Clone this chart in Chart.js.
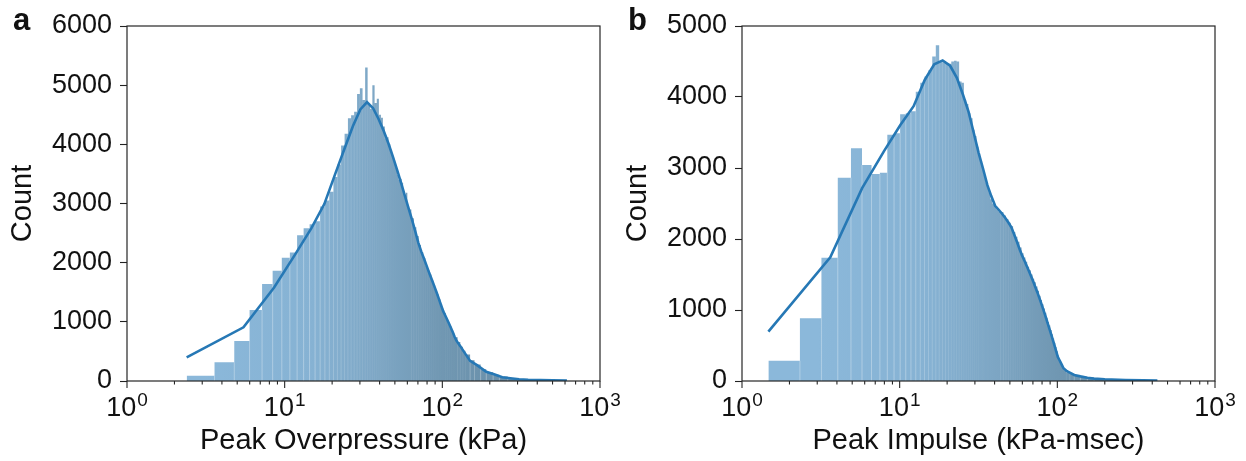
<!DOCTYPE html>
<html>
<head>
<meta charset="utf-8">
<script src="https://cdn.jsdelivr.net/npm/chart.js@4.4.1/dist/chart.umd.min.js"></script>
<style>
  html, body { margin: 0; padding: 0; background: #fff; }
  #wrap { position: relative; width: 1246px; height: 461px; overflow: hidden; }
  canvas { position: absolute; top: 0; }
  #chartA { left: 0; }
  #chartB { left: 615px; }
</style>
</head>
<body>
<div id="wrap">
  <canvas id="chartA" width="620" height="461"></canvas>
  <canvas id="chartB" width="631" height="461"></canvas>
</div>
<script>
// ---- panel a : peak overpressure (kPa) ----
// histogram: left edge of each bin and its count (dense part read as envelope)
const binStartA = [2.39, 3.59, 4.79, 5.99, 7.19, 8.39, 9.59, 10.79, 11.99, 13.19, 14.39, 15.59, 16.79, 17.99, 19.19, 20.39,
  21.59, 22.79, 23.99, 25.19, 26.39, 27.59, 28.79, 29.99, 31.19, 32.39, 33.59, 34.79, 35.99, 37.19, 38.39, 39.59,
  40.79, 41.99, 43.19, 44.39, 45.59, 46.79, 47.99, 49.19, 50.39, 51.59, 52.79, 53.99, 55.19, 56.39, 57.59, 58.79,
  59.99, 61.2, 63.6, 66, 68.4, 70.8, 73.2, 75.6, 78, 80.4, 82.8, 85.2, 87.6, 90, 92.4, 94.8, 97.2, 99.6, 102, 105,
  108, 111, 114, 117, 120, 125, 130, 135, 140, 150, 160, 175, 190, 210, 230, 260, 300, 350, 420, 500];
const countA = [90, 316, 676, 1199, 1640, 1865, 2085, 2170, 2465, 2580, 2650, 2700, 2950, 3050, 3200, 3450,
  3660, 3980, 4180, 4440, 4490, 4550, 4850, 4950, 4750, 5300, 4690, 4600, 5000, 4700, 4770, 4500,
  4450, 4300, 4100, 4120, 4000, 3900, 3800, 3700, 3600, 3480, 3400, 3420, 3350, 3200, 3100, 3180,
  2950, 2900, 2750, 2600, 2450, 2300, 2180, 2080, 1950, 1870, 1800, 1700, 1620, 1520, 1460, 1380, 1300, 1220, 1150, 1060,
  990, 930, 860, 800, 740, 660, 580, 510, 450, 350, 280, 200, 150, 105, 75, 50, 30, 20, 14, 10];
const binEndA = 617;
// kde curve
const kdeXA = [2.39, 5.48, 8.57, 11.66, 14.75, 17.84, 20.93, 24.02, 27.11, 30.2, 33.29, 36.38, 39.47, 42.56, 45.65,
  48.74, 51.83, 54.92, 58.01, 61.1, 64.19, 67.28, 70.37, 73.46, 76.55, 79.64, 82.73, 85.82, 88.91, 92.0, 95.09,
  98.18, 101.27, 104.36, 107.45, 110.54, 113.63, 116.72, 119.81, 122.9, 130, 140, 150, 165, 190, 215, 240, 270,
  307, 350, 420, 500, 617];
const kdeYA = [400, 907, 1580, 2140, 2580, 2990, 3500, 3935, 4310, 4590, 4715, 4610, 4425, 4222, 4006,
  3779, 3555, 3337, 3120, 2919, 2726, 2533, 2340, 2190, 2066, 1942, 1820, 1711, 1603, 1495, 1388,
  1280, 1181, 1108, 1036, 963, 890, 818, 745, 681, 589, 459, 340, 273, 155, 110, 64, 47,
  29, 20, 14, 10, 8];

// ---- panel b : peak impulse (kPa-msec) ----
const binStartB = [1.47, 2.33, 3.19, 4.05, 4.91, 5.77, 6.63, 7.49, 8.35, 9.21, 10.07, 10.93, 11.79, 12.65, 13.51, 14.37,
  15.23, 16.09, 16.95, 17.81, 18.67, 19.53, 20.39, 21.25, 22.11, 22.97, 23.83, 24.69, 25.55, 26.41, 27.27, 28.13,
  29.0, 29.85, 30.7, 31.6, 32.4, 33.3, 34.2, 35.0, 35.9, 36.8, 37.6, 38.5, 39.4, 40.2, 41.1, 42.0,
  43.7, 45.5, 47.2, 48.9, 50.6, 52.4, 54.1, 55.8, 57.5, 59.3, 61.0, 62.7, 64.4, 66.2, 67.9, 69.6,
  71.3, 73.0, 74.8, 76.5, 78.2, 79.9, 81.6, 83.4, 85.1, 86.8, 88.5, 90.2, 92.0, 93.7, 95.4, 97.1,
  98.8, 100.6, 102.3, 104, 106, 108, 110, 114, 120, 128, 140, 155, 171, 200, 250, 300, 350];
const countB = [286, 883, 1737, 2864, 3277, 3042, 2915, 2934, 3470, 3490, 3756, 3770, 3800, 4075, 4200, 4290,
  4380, 4570, 4730, 4500, 4490, 4480, 4470, 4500, 4510, 4500, 4220, 4200, 3960, 3900, 3770, 3700,
  3540, 3450, 3300, 3200, 3100, 3000, 2900, 2800, 2720, 2650, 2560, 2500, 2480, 2450, 2420, 2390,
  2380, 2330, 2280, 2230, 2180, 2100, 2030, 1960, 1880, 1800, 1740, 1680, 1610, 1560, 1500, 1440,
  1390, 1330, 1270, 1200, 1140, 1080, 1020, 960, 890, 830, 780, 720, 660, 600, 540, 480,
  420, 360, 300, 250, 210, 180, 150, 120, 100, 80, 60, 45, 33, 24, 16, 12, 9];
const binEndB = 431;
const kdeXB = [1.47, 3.63, 5.78, 7.94, 10.10, 12.26, 14.42, 16.57, 18.73, 20.89, 23.05, 25.21, 27.36, 29.52, 31.68,
  33.84, 36.0, 38.15, 40.31, 42.47, 44.63, 46.79, 48.94, 51.1, 53.26, 55.42, 57.58, 59.73, 61.89, 64.05, 66.21,
  68.37, 70.52, 72.68, 74.84, 77.0, 79.16, 81.31, 83.47, 85.63, 87.79, 89.95, 92.1, 94.26, 96.42, 98.58, 100.7,
  102.9, 105.1, 107.2, 109.4, 115, 120, 128, 140, 155, 171, 200, 270, 350, 431];
const kdeYB = [695, 1742, 2716, 3235, 3605, 3870, 4240, 4460, 4515, 4440, 4270, 4032, 3790, 3493, 3214,
  2986, 2758, 2601, 2468, 2412, 2356, 2297, 2233, 2165, 2063, 1962, 1860, 1769, 1693, 1617, 1542,
  1467, 1393, 1318, 1244, 1167, 1089, 1012, 935, 857, 781, 707, 632, 558, 484, 409, 339,
  299, 259, 220, 180, 138, 118, 85, 65, 45, 33, 24, 14, 9, 5];

// ---- axes ----
const yTicksA = [0, 1000, 2000, 3000, 4000, 5000, 6000];
const yTicksB = [0, 1000, 2000, 3000, 4000, 5000];
const xDecades = [1, 10, 100, 1000];
const xExponents = ['0', '1', '2', '3'];

const FONT = '"Liberation Sans", Arial, sans-serif';
Chart.defaults.font.family = FONT;
Chart.defaults.color = '#111';

function histFill(chart) {
  const area = chart.chartArea;
  if (!area) return 'rgb(137,182,216)';
  const xs = chart.scales.x;
  const g = chart.ctx.createLinearGradient(area.left, 0, area.right, 0);
  const stops = [[3, 'rgb(139,184,218)'], [15, 'rgb(134,178,211)'], [40, 'rgb(125,166,196)'],
                 [100, 'rgb(112,151,178)'], [300, 'rgb(104,142,168)']];
  stops.forEach(([v, c]) => {
    const p = (xs.getPixelForValue(v) - area.left) / (area.right - area.left);
    g.addColorStop(Math.min(1, Math.max(0, p)), c);
  });
  return g;
}

// frame, log ticks with superscript labels, panel letter, light bin separators
const panelDecor = {
  id: 'panelDecor',
  afterDatasetDraw(chart, args, opts) {
    if (args.index !== 1) return;
    const { ctx, chartArea: a } = chart;
    const xs = chart.scales.x, ys = chart.scales.y;
    ctx.save();
    ctx.lineWidth = 1;
    for (let i = 1; i < opts.binStart.length; i++) {
      const px = xs.getPixelForValue(opts.binStart[i]);
      const pxPrev = xs.getPixelForValue(opts.binStart[i - 1]);
      const alpha = Math.min(0.32, (px - pxPrev - 1.5) * 0.08);
      if (alpha <= 0) continue;
      const top = ys.getPixelForValue(Math.min(opts.counts[i], opts.counts[i - 1]));
      ctx.strokeStyle = 'rgba(255,255,255,' + alpha.toFixed(3) + ')';
      ctx.beginPath();
      ctx.moveTo(px, a.bottom);
      ctx.lineTo(px, top);
      ctx.stroke();
    }
    ctx.restore();
  },
  afterDraw(chart, args, opts) {
    const { ctx, chartArea: a } = chart;
    const xs = chart.scales.x;
    ctx.save();
    ctx.strokeStyle = '#262626';
    ctx.lineWidth = 1.2;
    ctx.strokeRect(a.left, a.top, a.right - a.left, a.bottom - a.top);

    ctx.lineWidth = 1.1;
    xs.ticks.forEach(t => {
      const v = t.value;
      const e = Math.floor(Math.log10(v) + 1e-9);
      const lead = v / Math.pow(10, e);
      if (Math.abs(lead - Math.round(lead)) > 1e-6) return;
      const major = Math.round(lead) === 1;
      const px = xs.getPixelForValue(v);
      ctx.beginPath();
      ctx.moveTo(px, a.bottom);
      ctx.lineTo(px, a.bottom + (major ? 7 : 3.5));
      ctx.stroke();
    });

    ctx.fillStyle = '#111';
    ctx.textBaseline = 'alphabetic';
    xDecades.forEach((v, i) => {
      const px = xs.getPixelForValue(v);
      ctx.font = '27px ' + FONT;
      const w1 = ctx.measureText('10').width;
      ctx.font = '19px ' + FONT;
      const w2 = ctx.measureText(xExponents[i]).width;
      const x0 = px - (w1 + w2 + 1) / 2;
      ctx.font = '27px ' + FONT;
      ctx.fillText('10', x0, a.bottom + 35);
      ctx.font = '19px ' + FONT;
      ctx.fillText(xExponents[i], x0 + w1 + 1, a.bottom + 25);
    });

    ctx.font = 'bold 31px ' + FONT;
    ctx.fillText(opts.letter, 13, 30);
    ctx.restore();
  }
};

function makeChart(id, letter, binStart, counts, binEnd, kdeX, kdeY, yTicks, xTitle, rightPad) {
  const hist = binStart.map((x, i) => ({ x, y: counts[i] })).concat([{ x: binEnd, y: 0 }]);
  const kde = kdeX.map((x, i) => ({ x, y: kdeY[i] }));
  return new Chart(document.getElementById(id), {
    type: 'line',
    data: {
      datasets: [
        {
          data: kde,
          borderColor: '#2678b5',
          borderWidth: 2.6,
          pointRadius: 0,
          fill: false,
          tension: 0,
          order: 0
        },
        {
          data: hist,
          stepped: true,
          fill: 'origin',
          borderColor: 'rgba(0,0,0,0)',
          borderWidth: 0,
          pointRadius: 0,
          backgroundColor: c => histFill(c.chart),
          order: 1
        }
      ]
    },
    options: {
      responsive: false,
      animation: false,
      events: [],
      layout: { padding: { top: 26, right: rightPad, left: 0, bottom: 0 } },
      plugins: {
        legend: { display: false },
        tooltip: { enabled: false },
        panelDecor: { letter, binStart, counts }
      },
      scales: {
        x: {
          type: 'logarithmic',
          min: 1,
          max: 1000,
          ticks: { display: false },
          grid: { display: false },
          border: { display: false },
          title: { display: true, text: xTitle, font: { size: 29 }, color: '#111', padding: { top: 0, bottom: 3 } },
          afterFit: s => { s.height = 80; }
        },
        y: {
          type: 'linear',
          min: 0,
          max: yTicks[yTicks.length - 1],
          afterBuildTicks: s => { s.ticks = yTicks.map(v => ({ value: v })); },
          ticks: { font: { size: 27 }, color: '#111', padding: 8, callback: v => String(v) },
          grid: { drawOnChartArea: false, tickLength: 7, tickColor: '#222', tickWidth: 1.1 },
          border: { display: false },
          title: { display: true, text: 'Count', font: { size: 29 }, color: '#111', padding: { top: 6, bottom: 0 } },
          afterFit: s => { s.width = 127; }
        }
      }
    },
    plugins: [panelDecor]
  });
}

makeChart('chartA', 'a', binStartA, countA, binEndA, kdeXA, kdeYA, yTicksA, 'Peak Overpressure (kPa)', 20);
makeChart('chartB', 'b', binStartB, countB, binEndB, kdeXB, kdeYB, yTicksB, 'Peak Impulse (kPa-msec)', 31);
</script>
</body>
</html>
